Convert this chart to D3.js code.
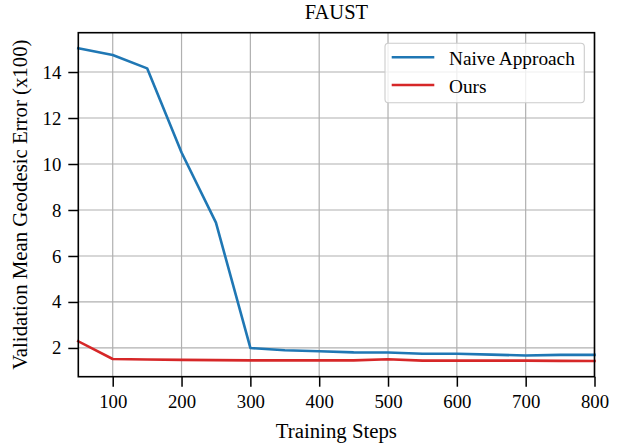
<!DOCTYPE html>
<html>
<head>
<meta charset="utf-8">
<script src="https://cdn.jsdelivr.net/npm/d3@7"></script>
<style>
html,body{margin:0;padding:0;background:#fff;}
svg{display:block;font-family:"Liberation Serif","Times New Roman",serif;}
</style>
</head>
<body>
<svg id="chart" width="620" height="444"></svg>
<script>
const steps = [50,100,150,200,250,300,350,400,450,500,550,600,650,700,750,800];
const naive = [15.03,14.74,14.16,10.5,7.45,2.0,1.9,1.86,1.81,1.80,1.75,1.75,1.71,1.67,1.70,1.70];
const ours  = [2.29,1.52,1.50,1.48,1.47,1.46,1.46,1.46,1.46,1.51,1.45,1.45,1.45,1.45,1.44,1.43];
const xTicks = [100,200,300,400,500,600,700,800];
const yTicks = [2,4,6,8,10,12,14];
const seriesNames = ["Naive Approach","Ours"];
const colors = ["#1f77b4","#d62728"];
const title = "FAUST";
const xLabel = "Training Steps";
const yLabel = "Validation Mean Geodesic Error (x100)";

const L = 78.3, R = 594.5, T = 32.7, B = 376.7;
const svg = d3.select("#chart");
const x = d3.scaleLinear().domain([50,800]).range([L,R]);
const yMin = 1.43, yMax = 15.03, pad = (yMax - yMin)*0.05;
const y = d3.scaleLinear().domain([yMin-pad, yMax+pad]).range([B,T]);

// grid
const g = svg.append("g");
g.selectAll(".gx").data(xTicks).enter().append("line")
  .attr("x1",d=>x(d)).attr("x2",d=>x(d)).attr("y1",T).attr("y2",B)
  .attr("stroke","#b0b0b0").attr("stroke-width",1.2);
g.selectAll(".gy").data(yTicks).enter().append("line")
  .attr("x1",L).attr("x2",R).attr("y1",d=>y(d)).attr("y2",d=>y(d))
  .attr("stroke","#b0b0b0").attr("stroke-width",1.2);

// lines
const line = d3.line().x((d,i)=>x(steps[i])).y(d=>y(d));
[naive, ours].forEach((s,k)=>{
  svg.append("path").datum(s).attr("d",line)
    .attr("fill","none").attr("stroke",colors[k]).attr("stroke-width",2.6)
    .attr("stroke-linejoin","round").attr("stroke-linecap","square");
});

// axes
const xAxis = d3.axisBottom(x).tickValues(xTicks).tickSize(10).tickPadding(8).tickFormat(d3.format("d"));
const yAxis = d3.axisLeft(y).tickValues(yTicks).tickSize(10).tickPadding(7).tickFormat(d3.format("d"));
const gx = svg.append("g").attr("transform",`translate(0,${B})`).call(xAxis);
const gy = svg.append("g").attr("transform",`translate(${L},0)`).call(yAxis);
[gx,gy].forEach(a=>{
  a.select(".domain").remove();
  a.selectAll(".tick line").attr("stroke","#000").attr("stroke-width",1.5);
  a.selectAll(".tick text").attr("fill","#000").style("font-size","18.8px")
    .style("font-family",'"Liberation Serif","Times New Roman",serif');
});

// frame
svg.append("rect").attr("x",L).attr("y",T).attr("width",R-L).attr("height",B-T)
  .attr("fill","none").attr("stroke","#000").attr("stroke-width",1.6);

// title & labels
svg.append("text").attr("x",(L+R)/2).attr("y",18.5).attr("text-anchor","middle")
  .style("font-size","20.5px").text(title);
svg.append("text").attr("x",(L+R)/2).attr("y",438).attr("text-anchor","middle")
  .style("font-size","20.8px").text(xLabel);
svg.append("text").attr("transform",`translate(27,${(T+B)/2}) rotate(-90)`)
  .attr("text-anchor","middle").style("font-size","20.8px").text(yLabel);

// legend
const lg = svg.append("g");
lg.append("rect").attr("x",385).attr("y",43.3).attr("width",199.3).attr("height",59.4)
  .attr("rx",3.5).attr("fill","#fff").attr("fill-opacity",0.8)
  .attr("stroke","#cccccc").attr("stroke-width",1.1);
const ly = [57.3, 85];
seriesNames.forEach((n,k)=>{
  lg.append("line").attr("x1",391.7).attr("x2",434.3).attr("y1",ly[k]).attr("y2",ly[k])
    .attr("stroke",colors[k]).attr("stroke-width",2.6);
  lg.append("text").attr("x",449).attr("y",ly[k]+7.8).style("font-size","19.3px").text(n);
});
</script>
</body>
</html>
